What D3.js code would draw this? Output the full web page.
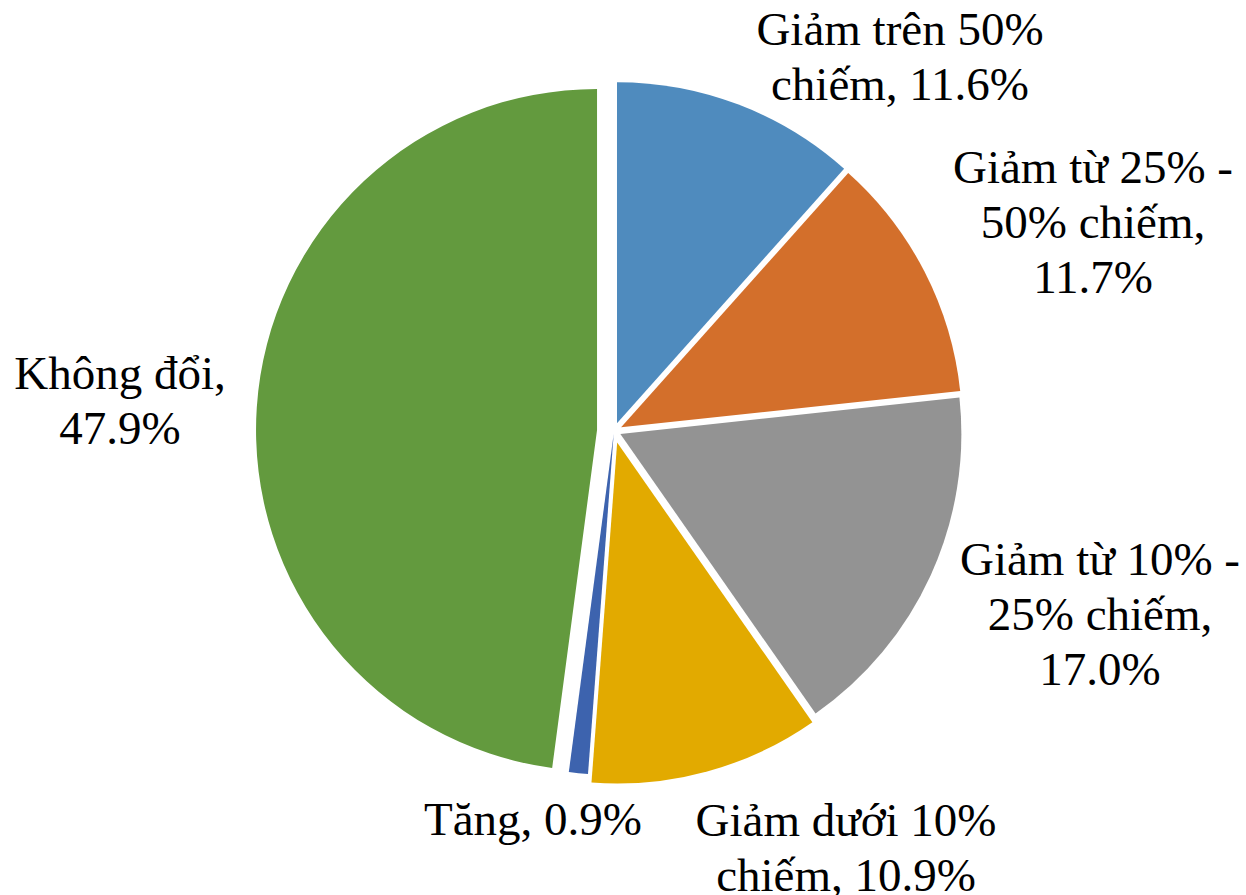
<!DOCTYPE html>
<html>
<head>
<meta charset="utf-8">
<script src="https://cdn.jsdelivr.net/npm/d3@7"></script>
<style>
  html, body { margin: 0; padding: 0; background: #ffffff; }
  svg { display: block; }
  .lbl { font-family: "Liberation Serif", Tinos, "Times New Roman", "DejaVu Serif", serif; }
</style>
</head>
<body>
<svg id="chart" width="1246" height="895"></svg>
<script>
// ---- data ----
const categories = [
  "Giảm trên 50% chiếm",
  "Giảm từ 25% - 50% chiếm",
  "Giảm từ 10% - 25% chiếm",
  "Giảm dưới 10% chiếm",
  "Tăng",
  "Không đổi"
];
const values = [11.6, 11.7, 17.0, 10.9, 0.9, 47.9];

// ---- styling / layout ----
const colors = ["#4f8bbe", "#d36f2b", "#939393", "#e2aa00", "#3d63ae", "#639a3e"];
const explode = [8.4, 8, 7, 12, 3, 17];
const labelAnchors = [[900, 45], [1093, 183], [1100, 575], [846, 836], [533, 835], [120, 389]];
const W = 1246, H = 895;
const cx = 614, cy = 431, R = 341;
const fontSize = 47, lineH = 55, wrapWidth = 325;

const svg = d3.select("#chart");
const g = svg.append("g").attr("transform", `translate(${cx},${cy})`);

const pie = d3.pie().sort(null).value(d => d.value);
const arc = d3.arc().innerRadius(0).outerRadius(R);
const data = categories.map((c, i) => ({ category: c, value: values[i], i }));
const arcs = pie(data);

g.selectAll("path.slice")
  .data(arcs)
  .join("path")
  .attr("class", "slice")
  .attr("d", arc)
  .attr("fill", d => colors[d.data.i])
  .attr("transform", d => {
    const mid = (d.startAngle + d.endAngle) / 2;
    const e = explode[d.data.i];
    return `translate(${e * Math.sin(mid)},${-e * Math.cos(mid)})`;
  });

// ---- labels ----
const labels = svg.append("g")
  .attr("class", "lbl")
  .style("font-size", fontSize + "px")
  .attr("fill", "#000")
  .attr("text-anchor", "middle");

data.forEach((d, i) => {
  const full = `${d.category}, ${d.value.toFixed(1)}%`;
  const words = full.split(" ");
  const t = labels.append("text")
    .attr("x", labelAnchors[i][0])
    .attr("y", labelAnchors[i][1]);
  const lines = [];
  let cur = [];
  const probe = labels.append("text").attr("visibility", "hidden");
  words.forEach(w => {
    const test = cur.concat([w]).join(" ");
    probe.text(test);
    if (cur.length && probe.node().getComputedTextLength() > wrapWidth) {
      lines.push(cur.join(" "));
      cur = [w];
    } else {
      cur.push(w);
    }
  });
  if (cur.length) lines.push(cur.join(" "));
  probe.remove();
  lines.forEach((ln, k) => {
    t.append("tspan")
      .attr("x", labelAnchors[i][0])
      .attr("y", labelAnchors[i][1] + k * lineH)
      .text(ln);
  });
});
</script>
</body>
</html>
